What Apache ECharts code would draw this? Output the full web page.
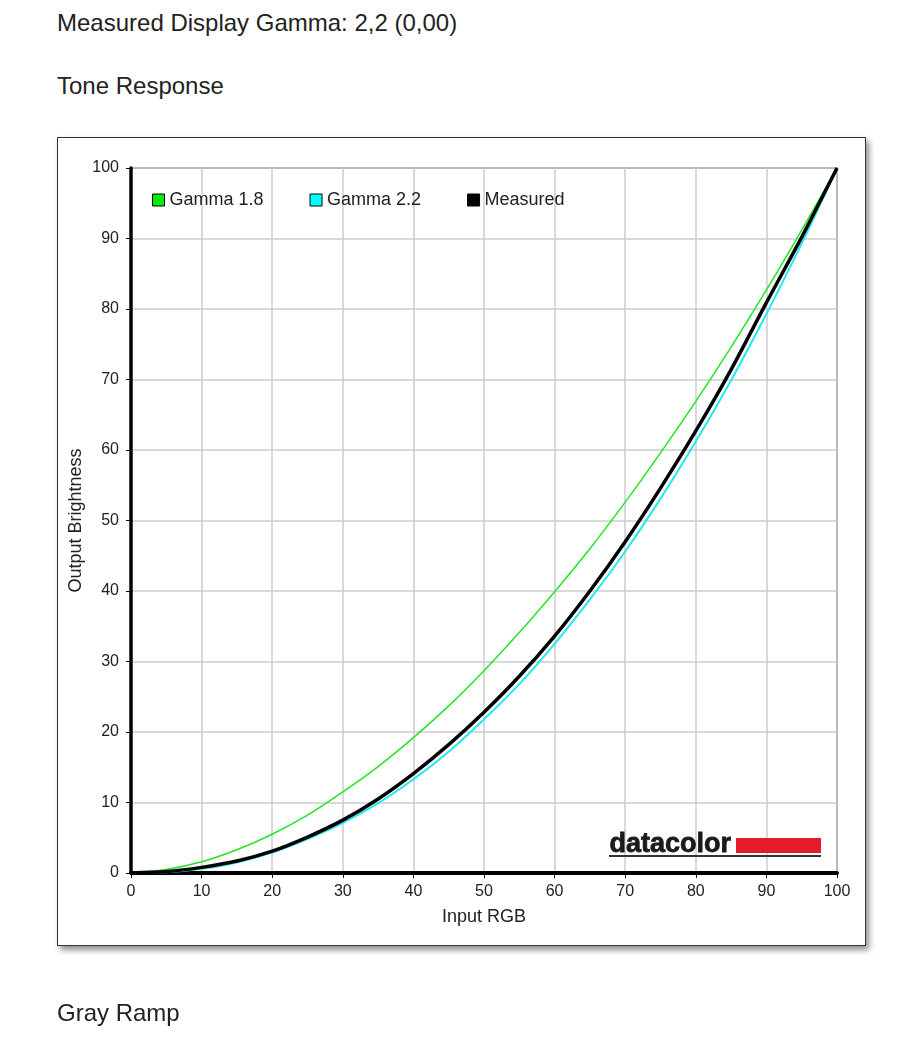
<!DOCTYPE html>
<html>
<head>
<meta charset="utf-8">
<title>Tone Response</title>
<script src="https://cdn.jsdelivr.net/npm/echarts@6/dist/echarts.min.js"></script>
<style>
    html, body { margin: 0; padding: 0; background: #fff; }
    body { width: 923px; height: 1037px; position: relative; overflow: hidden;
           font-family: "Liberation Sans", Arial, sans-serif; color: #222; }
    .head { position: absolute; left: 57px; font-size: 24px; line-height: 24px; white-space: nowrap; }
    .box { position: absolute; left: 57px; top: 137px; width: 807px; height: 807px;
           border: 1px solid #333; background: #fff;
           box-shadow: 3px 4px 6px rgba(0, 0, 0, 0.45); }
    #chart { position: absolute; left: 0; top: 0; width: 923px; height: 1037px; }
</style>
</head>
<body>
<div class="head" style="top:11px">Measured Display Gamma: 2,2 (0,00)</div>
<div class="head" style="top:74px">Tone Response</div>
<div class="box"></div>
<div id="chart"></div>
<div class="head" style="top:1001px">Gray Ramp</div>
<script>
// 输入值 (Input RGB)
let inputRGB = [0, 5, 10, 15, 20, 25, 30, 35, 40, 45, 50, 55, 60, 65, 70, 75, 80, 85, 90, 95, 100];
// 读图得到的曲线
let gamma18 = [0, 0.5, 1.6, 3.3, 5.5, 8.2, 11.5, 15.1, 19.2, 23.7, 28.7, 34.1, 39.9, 46.0, 52.6, 59.6, 66.9, 74.6, 82.7, 91.2, 100];
let gamma22 = [0, 0.1, 0.6, 1.5, 2.9, 4.8, 7.1, 9.9, 13.3, 17.2, 21.8, 26.8, 32.5, 38.8, 45.6, 53.1, 61.2, 69.9, 79.3, 89.3, 100];
let measured = [0, 0.2, 0.8, 1.7, 3.1, 5.1, 7.5, 10.5, 14.1, 18.2, 22.8, 27.9, 33.6, 40.0, 47.0, 54.6, 62.7, 71.4, 80.9, 90.2, 100];
let seriesNames = ['Gamma 1.8', 'Gamma 2.2', 'Measured'];
let seriesColors = ['#22e622', '#22e8f0', '#000000'];
let seriesWidths = [1.5, 2, 3.5];

function pairs(arr) {
    let out = [];
    for (let i = 0; i < inputRGB.length; i++) {
        out.push([inputRGB[i], arr[i]]);
    }
    return out;
}

let font = '"Liberation Sans", Arial, sans-serif';
let allData = [gamma18, gamma22, measured];
let series = [];
for (let i = 0; i < allData.length; i++) {
    series.push({
        name: seriesNames[i],
        type: 'line',
        smooth: 0.3,
        symbol: 'none',
        color: seriesColors[i],
        itemStyle: { color: seriesColors[i] },
        lineStyle: { width: seriesWidths[i], color: seriesColors[i] },
        data: pairs(allData[i])
    });
}
// legend squares are brighter than the lines
let legendColors = ['#00ee00', '#00ffff', '#000000'];

let axisCommon = {
    type: 'value',
    min: 0,
    max: 100,
    interval: 10,
    nameLocation: 'middle',
    nameMoveOverlap: false,
    nameTextStyle: { fontSize: 18, color: '#222', fontFamily: font },
    axisLine: { show: true, onZero: false, lineStyle: { color: '#000', width: 4 } },
    axisTick: { show: true, length: 5, lineStyle: { color: '#000', width: 1 } },
    splitLine: { show: true, lineStyle: { color: '#cccccc', width: 1.5 } },
    axisLabel: { fontSize: 16, color: '#222', fontFamily: font }
};

let option = {
    animation: false,
    backgroundColor: 'transparent',
    textStyle: { fontFamily: font },
    grid: {
        left: 131, right: 86, top: 168, bottom: 164,
        show: true, borderColor: '#555', borderWidth: 1.5
    },
    legend: {
        left: 147,
        top: 186,
        icon: 'rect',
        itemWidth: 12,
        itemHeight: 12,
        itemGap: 46,
        itemStyle: { borderColor: '#000', borderWidth: 1 },
        textStyle: { fontSize: 18, color: '#222', fontFamily: font },
        data: seriesNames.map(function (n, i) {
            return { name: n, itemStyle: { color: legendColors[i], borderColor: '#000', borderWidth: 1 } };
        })
    },
    xAxis: Object.assign({}, axisCommon, {
        name: 'Input RGB',
        nameGap: 35,
        axisLabel: Object.assign({}, axisCommon.axisLabel, { margin: 11 })
    }),
    yAxis: Object.assign({}, axisCommon, {
        name: 'Output Brightness',
        nameGap: 46,
        axisLine: { show: true, onZero: false, lineStyle: { color: '#000', width: 3.5 } },
        axisLabel: Object.assign({}, axisCommon.axisLabel, { margin: 12 })
    }),
    graphic: [
        // datacolor 标志
        {
            type: 'text', left: 609, top: 831, z: 10,
            style: { text: 'datacolor', font: 'bold 27px ' + font, fill: '#1a1a1a', stroke: '#1a1a1a', lineWidth: 0.8 }
        },
        {
            type: 'rect', shape: { x: 736, y: 838, width: 85, height: 15 }, z: 10,
            style: { fill: '#e31b2b' }
        },
        {
            type: 'rect', shape: { x: 609, y: 855, width: 212, height: 2 }, z: 10,
            style: { fill: '#333' }
        }
    ],
    series: series
};

let myChart = echarts.init(document.getElementById('chart'));
myChart.setOption(option);
</script>
</body>
</html>
